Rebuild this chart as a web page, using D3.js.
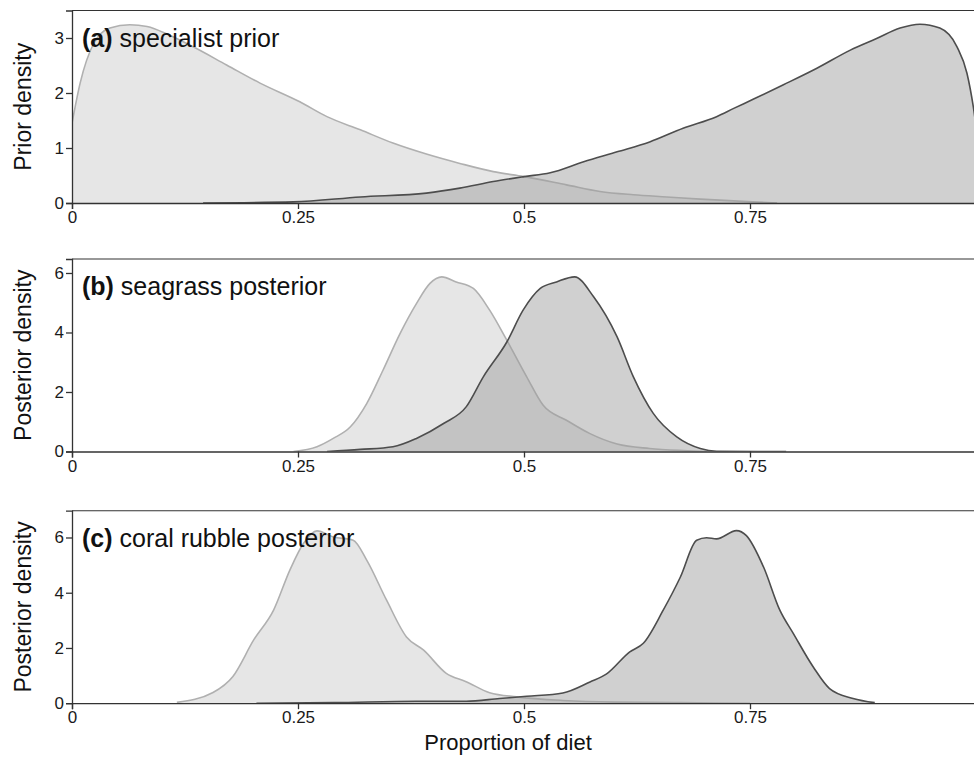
<!DOCTYPE html>
<html>
<head>
    <meta charset="UTF-8">
    <script src="https://d3js.org/d3.v7.min.js"></script>
    <style>
        body { margin: 0; background: white; }
        svg { display: block; font-family: "Liberation Sans", Arial, sans-serif; }
        .tick text { fill: #1a1a1a; }
    </style>
</head>
<body>
    <div id="chart"><svg></svg></div>
    <script>
        // tick labels + panel text
        let xTicks = [0, 0.25, 0.5, 0.75]
        let xTickLabels = ["0", "0.25", "0.5", "0.75"]
        let panelTags = ["(a)", "(b)", "(c)"]
        let panelNames = ["specialist prior", "seagrass posterior", "coral rubble posterior"]
        let yTitles = ["Prior density", "Posterior density", "Posterior density"]
        let yMax = [3.5, 6.47, 6.97]
        let yTicks = [[0, 1, 2, 3], [0, 2, 4, 6], [0, 2, 4, 6]]

        // density curves: [proportion, density]
        let aLight = [[0, 1.45], [0.009, 2.18], [0.024, 2.9], [0.042, 3.18], [0.064, 3.24], [0.083, 3.21],
            [0.108, 3.05], [0.134, 2.84], [0.171, 2.51], [0.208, 2.18], [0.252, 1.84], [0.282, 1.57],
            [0.319, 1.33], [0.355, 1.09], [0.392, 0.89], [0.429, 0.72], [0.466, 0.57], [0.5, 0.48],
            [0.547, 0.33], [0.584, 0.21], [0.621, 0.15], [0.658, 0.11], [0.695, 0.07], [0.753, 0.02], [0.78, 0]]
        let aDark = [[0.145, 0], [0.245, 0.02], [0.319, 0.11], [0.392, 0.18], [0.429, 0.27], [0.466, 0.39],
            [0.5, 0.48], [0.529, 0.55], [0.566, 0.75], [0.603, 0.93], [0.639, 1.11], [0.676, 1.36],
            [0.713, 1.57], [0.732, 1.72], [0.754, 1.89], [0.787, 2.15], [0.824, 2.45], [0.861, 2.78],
            [0.89, 2.99], [0.916, 3.18], [0.938, 3.25], [0.96, 3.18], [0.979, 2.84], [0.99, 2.36],
            [0.997, 1.75], [1.0, 1.4]]
        let bLight = [[0.245, 0], [0.271, 0.16], [0.289, 0.44], [0.308, 0.83], [0.326, 1.61], [0.344, 2.73],
            [0.363, 3.97], [0.381, 4.97], [0.396, 5.65], [0.409, 5.87], [0.425, 5.7], [0.444, 5.48],
            [0.462, 4.75], [0.481, 3.74], [0.503, 2.51], [0.521, 1.56], [0.547, 1.05], [0.573, 0.6],
            [0.603, 0.25], [0.639, 0.1], [0.676, 0.03], [0.702, 0]]
        let bDark = [[0.282, 0], [0.319, 0.07], [0.355, 0.16], [0.381, 0.44], [0.411, 0.94], [0.436, 1.5],
            [0.455, 2.51], [0.481, 3.68], [0.499, 4.75], [0.518, 5.48], [0.536, 5.7], [0.556, 5.87],
            [0.577, 5.2], [0.603, 3.85], [0.621, 2.51], [0.643, 1.28], [0.669, 0.49], [0.695, 0.1],
            [0.713, 0.01], [0.79, 0]]
        let cLight = [[0.116, 0.03], [0.156, 0.39], [0.178, 0.97], [0.201, 2.29], [0.223, 3.37], [0.241, 4.82],
            [0.256, 5.78], [0.271, 6.24], [0.289, 6.02], [0.311, 5.9], [0.326, 5.18], [0.348, 3.73],
            [0.37, 2.4], [0.389, 1.92], [0.414, 1.08], [0.436, 0.78], [0.462, 0.38], [0.492, 0.23],
            [0.543, 0.1], [0.6, 0.04], [0.673, 0.02], [0.75, 0]]
        let cDark = [[0.204, 0], [0.29, 0.02], [0.381, 0.07], [0.436, 0.07], [0.473, 0.17], [0.503, 0.25],
            [0.543, 0.37], [0.573, 0.77], [0.591, 1.05], [0.617, 1.86], [0.632, 2.17], [0.654, 3.37],
            [0.673, 4.57], [0.691, 5.9], [0.702, 5.99], [0.713, 5.95], [0.735, 6.25], [0.746, 6.07],
            [0.765, 4.93], [0.783, 3.37], [0.798, 2.52], [0.82, 1.31], [0.838, 0.53], [0.864, 0.17], [0.888, 0.02]]

        let curves = [[aLight, aDark], [bLight, bDark], [cLight, cDark]]

        let width = 974, height = 769
        let left = 72, plotW = 904, plotH = 192.5
        let tops = [10.5, 259, 510.7]

        let svg = d3.select("#chart svg")
            .attr("width", width)
            .attr("height", height)

        let defs = svg.append("defs")

        let x = d3.scaleLinear().domain([0, 1]).range([left, left + plotW])

        tops.forEach(function (top, i) {
            let y = d3.scaleLinear().domain([0, yMax[i]]).range([top + plotH, top])
            let g = svg.append("g")

            let area = d3.area().x(d => x(d[0])).y0(y(0)).y1(d => y(d[1])).curve(d3.curveMonotoneX)
            let line = d3.line().x(d => x(d[0])).y(d => y(d[1])).curve(d3.curveMonotoneX)

            defs.append("clipPath")
                .attr("id", "clip" + i)
                .append("rect")
                .attr("x", left).attr("y", top)
                .attr("width", plotW).attr("height", plotH)

            let plot = g.append("g")
                .attr("clip-path", "url(#clip" + i + ")")

            // light group first, dark on top with some transparency
            plot.append("path").datum(curves[i][0])
                .attr("d", area).attr("fill", "#e6e6e6")
            plot.append("path").datum(curves[i][0])
                .attr("d", line).attr("fill", "none")
                .attr("stroke", "#b0b0b0").attr("stroke-width", 1.6)
            plot.append("path").datum(curves[i][1])
                .attr("d", area).attr("fill", "#9c9c9c").attr("fill-opacity", 0.48)
            plot.append("path").datum(curves[i][1])
                .attr("d", line).attr("fill", "none")
                .attr("stroke", "#4d4d4d").attr("stroke-width", 1.6)

            // panel frame (top), bottom/left are the axes
            g.append("line")
                .attr("x1", left).attr("x2", left + plotW)
                .attr("y1", top).attr("y2", top)
                .attr("stroke", "#333").attr("stroke-width", 1.1)

            let xAxis = g.append("g")
                .attr("transform", "translate(0," + (top + plotH) + ")")
                .call(d3.axisBottom(x).tickValues(xTicks)
                    .tickFormat((d, k) => xTickLabels[k]).tickSize(6).tickPadding(2))
            xAxis.select(".domain").attr("stroke", "#333").attr("stroke-width", 1.3)
            xAxis.selectAll(".tick line").attr("stroke", "#333").attr("stroke-width", 1.3)
            xAxis.selectAll("text").style("font-size", "17px").style("font-family", "Liberation Sans, Arial, sans-serif")

            let yAxis = g.append("g")
                .attr("transform", "translate(" + left + ",0)")
                .call(d3.axisLeft(y).tickValues(yTicks[i]).tickFormat(d3.format("d")).tickSize(6).tickPadding(2))
            yAxis.select(".domain").attr("stroke", "#333").attr("stroke-width", 1.3)
            yAxis.selectAll(".tick line").attr("stroke", "#333").attr("stroke-width", 1.3)
            yAxis.selectAll("text").style("font-size", "17px").style("font-family", "Liberation Sans, Arial, sans-serif")

            let label = g.append("text")
                .attr("x", left + 10)
                .attr("y", top + 36)
                .style("font-size", "25px")
                .attr("fill", "#111")
            label.append("tspan").attr("font-weight", "bold").text(panelTags[i])
            label.append("tspan").text(" " + panelNames[i])

            g.append("text")
                .attr("transform", "translate(31," + (top + plotH / 2) + ") rotate(-90)")
                .attr("text-anchor", "middle")
                .style("font-size", "23px")
                .attr("fill", "#111")
                .text(yTitles[i])
        })

        svg.append("text")
            .attr("x", left + plotW / 2 - 16)
            .attr("y", 750)
            .attr("text-anchor", "middle")
            .style("font-size", "22px")
            .attr("fill", "#111")
            .text("Proportion of diet")
    </script>
</body>
</html>
